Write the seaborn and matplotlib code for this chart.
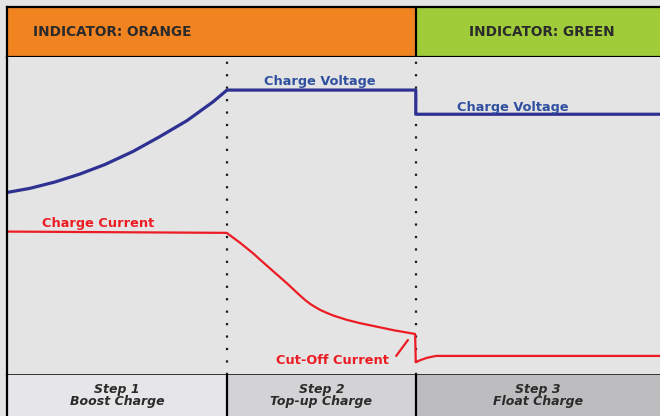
import numpy as np
import pandas as pd
import matplotlib
matplotlib.use("Agg")
import matplotlib.pyplot as plt
import seaborn as sns

# charge profile, time and level both on a 0-100 relative scale
step_edges = [0, 33.7, 62.6, 100]
step_names = ["Step 1\nBoost Charge", "Step 2\nTop-up Charge", "Step 3\nFloat Charge"]
step_colors = ["#e6e6e8", "#d3d3d5", "#bdbdbf"]

indicator_names = ["INDICATOR: ORANGE", "INDICATOR: GREEN"]
indicator_colors = ["#f28321", "#a0cc3a"]

voltage_t = [0, 3.52, 7.35, 11.18, 15.01, 19.30, 23.43, 27.57, 31.55, 33.69,
             62.6, 62.6, 100]
voltage_v = [57.4, 58.7, 60.7, 63.2, 66.2, 70.3, 75.0, 80.0, 85.9, 89.6,
             89.6, 82.0, 82.0]

current_t = [0, 33.64, 35.68, 37.72, 38.74, 40.78, 42.83, 44.87, 45.64, 46.40,
             47.17, 47.93, 49.00, 49.97, 52.02, 54.06, 56.62, 59.16, 62.5,
             62.6, 63.2, 64.3, 65.7, 100]
current_v = [45.1, 44.7, 41.6, 38.2, 36.3, 32.6, 28.9, 25.0, 23.6, 22.4,
             21.4, 20.5, 19.5, 18.7, 17.35, 16.3, 15.2, 14.1, 12.9,
             4.0, 4.6, 5.4, 6.0, 6.0]

cutoff_leader_t = [59.6, 61.4]
cutoff_leader_v = [6.0, 11.0]

sns.set_theme(style="white")
plt.rcParams["font.family"] = ["DejaVu Sans"]

VOLT_LINE = "#2e3192"
VOLT_TEXT = "#2f4f9f"
RED = "#ed1c24"
DARK = "#2b2b2b"
BG = "#e4e4e4"

fig = plt.figure(figsize=(6.6, 4.16), dpi=100, facecolor=BG)
left = 7 / 660
ax_head = fig.add_axes([left, 359 / 416, 1 - left, 50 / 416])
ax = fig.add_axes([left, 41 / 416, 1 - left, 318 / 416])
ax_foot = fig.add_axes([left, 0, 1 - left, 41 / 416])

for a in (ax_head, ax, ax_foot):
    a.set_xlim(step_edges[0], step_edges[-1])
    a.set_xticks([])
    a.set_yticks([])
    a.set_facecolor(BG)
    for s in a.spines.values():
        s.set_visible(False)
    a.spines["left"].set_visible(True)
    a.spines["left"].set_color("black")
    a.spines["left"].set_linewidth(1.6)

# header bar
ax_head.set_ylim(0, 1)
ax_head.axvspan(step_edges[0], step_edges[2], color=indicator_colors[0], lw=0)
ax_head.axvspan(step_edges[2], step_edges[3], color=indicator_colors[1], lw=0)
ax_head.axvline(step_edges[2], color="black", lw=1.6)
for side in ("top", "bottom"):
    ax_head.spines[side].set_visible(True)
    ax_head.spines[side].set_color("black")
    ax_head.spines[side].set_linewidth(1.6)
ax_head.text(4.0, 0.5, indicator_names[0], ha="left", va="center",
             fontsize=9.8, fontweight="bold", color=DARK)
ax_head.text(81.9, 0.5, indicator_names[1],
             ha="center", va="center", fontsize=9.8, fontweight="bold", color=DARK)

# main curves
ax.set_ylim(0, 100)
for x in step_edges[1:3]:
    ax.axvline(x, color="#1a1a1a", lw=1.6, linestyle=(0, (1, 4.6)))

volt = pd.DataFrame({"t": voltage_t, "v": voltage_v})
curr = pd.DataFrame({"t": current_t, "v": current_v})
sns.lineplot(data=volt, x="t", y="v", estimator=None, sort=False,
             color=VOLT_LINE, lw=2.3, ax=ax)
sns.lineplot(data=curr, x="t", y="v", estimator=None, sort=False,
             color=RED, lw=1.6, ax=ax)
ax.plot(cutoff_leader_t, cutoff_leader_v, color=RED, lw=1.6)
ax.set_xlabel("")
ax.set_ylabel("")
ax.spines["bottom"].set_visible(True)
ax.spines["bottom"].set_color("black")
ax.spines["bottom"].set_linewidth(1.8)

lab = dict(fontsize=9.3, fontweight="bold", ha="center", va="center")
ax.text(47.9, 92.2, "Charge Voltage", color=VOLT_TEXT, **lab)
ax.text(77.5, 84.0, "Charge Voltage", color=VOLT_TEXT, **lab)
ax.text(13.9, 47.6, "Charge Current", color=RED, **lab)
ax.text(49.8, 4.7, "Cut-Off Current", color=RED, **lab)

# footer with step names
ax_foot.set_ylim(0, 1)
for i, name in enumerate(step_names):
    ax_foot.axvspan(step_edges[i], step_edges[i + 1], color=step_colors[i], lw=0)
    ax_foot.text((step_edges[i] + step_edges[i + 1]) / 2, 0.5, name,
                 ha="center", va="center", fontsize=9.0, fontweight="bold",
                 fontstyle="italic", color=DARK, linespacing=1.0)
for x in step_edges[1:3]:
    ax_foot.axvline(x, color="black", lw=1.6)

fig.savefig("out.png", dpi=100, facecolor=BG)
